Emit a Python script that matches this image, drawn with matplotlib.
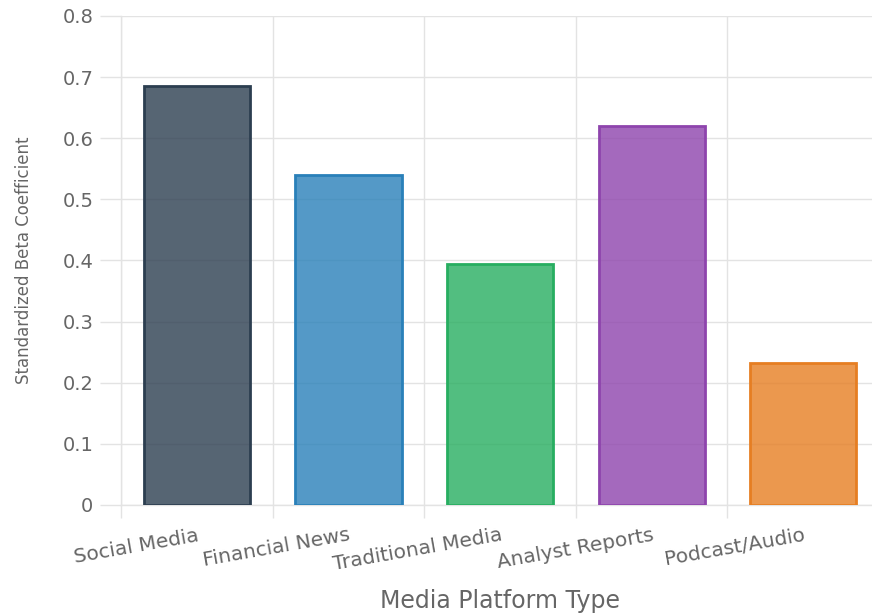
import matplotlib
matplotlib.use("Agg")
import matplotlib.pyplot as plt
from matplotlib.ticker import FuncFormatter, FixedLocator

# ---- data ----
platforms = ["Social Media", "Financial News", "Traditional Media",
             "Analyst Reports", "Podcast/Audio"]
beta = [0.685, 0.54, 0.395, 0.62, 0.232]
edge_colors = ["#2c3e50", "#2980b9", "#27ae60", "#8e44ad", "#e67e22"]

GRID = "#e3e3e3"
TXT = "#666666"

plt.rcParams["font.family"] = ["DejaVu Sans"]

fig = plt.figure(figsize=(8.72, 6.15), dpi=100)
ax = fig.add_axes([0.1388, 0.1789, 0.8693, 0.7951])

x = list(range(len(platforms)))
for xi, val, col in zip(x, beta, edge_colors):
    ax.bar(xi, val, width=0.7, color=col, alpha=0.8, edgecolor="none", zorder=2)
    ax.bar(xi, val, width=0.7, facecolor="none", edgecolor=col, lw=2, zorder=3)

ax.set_xlim(-0.5, len(platforms) - 0.5)
ax.set_ylim(0, 0.8)

# y axis
ax.set_yticks([i / 10 for i in range(9)])
ax.yaxis.set_major_formatter(FuncFormatter(lambda v, p: "0" if v == 0 else f"{v:.1f}"))
ax.tick_params(axis="y", length=15, width=1, color=GRID, pad=5,
               labelsize=14, labelcolor=TXT)
ax.grid(axis="y", color=GRID, lw=1, zorder=0)

# x axis: labels at centres, grid lines at category boundaries
ax.set_xticks(x)
ax.set_xticklabels(platforms, rotation=10, ha="right", va="top",
                   rotation_mode="anchor")
ax.xaxis.set_minor_locator(FixedLocator([i + 0.5 for i in range(-1, len(platforms))]))
ax.tick_params(axis="x", which="major", length=0, pad=15, labelsize=14.5, labelcolor=TXT)
ax.tick_params(axis="x", which="minor", length=9.5, width=1, color=GRID)
ax.grid(axis="x", which="minor", color=GRID, lw=1, zorder=0)

for s in ["top", "right"]:
    ax.spines[s].set_visible(False)
for s in ["left", "bottom"]:
    ax.spines[s].set_color(GRID)
    ax.spines[s].set_linewidth(1)

ax.set_ylabel("Standardized Beta Coefficient", fontsize=12, color=TXT)
ax.yaxis.set_label_coords(-0.116, 0.5)
ax.set_xlabel("Media Platform Type", fontsize=17, color=TXT)
ax.xaxis.set_label_coords(0.5, -0.172)

fig.savefig("out.png", dpi=100)
